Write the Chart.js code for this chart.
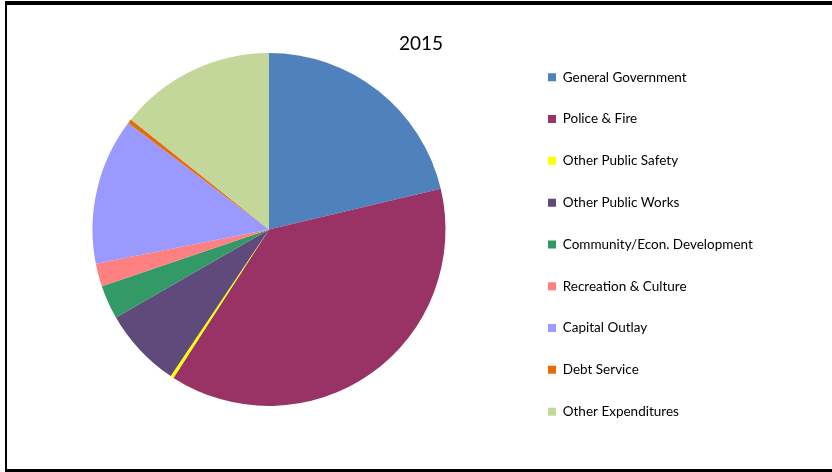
<!DOCTYPE html>
<html>
<head>
<meta charset="utf-8">
<script src="https://cdn.jsdelivr.net/npm/chart.js@4/dist/chart.umd.min.js"></script>
<style>
  html, body { margin: 0; padding: 0; background: #fff; }
  #wrap { position: relative; width: 832px; height: 472px; overflow: hidden; }
  #c { position: absolute; left: 0; top: 0; }
  #frame { position: absolute; left: 5px; top: 1px; width: 827px; height: 471px; box-sizing: border-box;
           border-top: 4px solid #000; border-left: 2px solid #000; border-bottom: 3px solid #000; pointer-events: none; }
</style>
</head>
<body>
<div id="wrap">
  <canvas id="c" width="832" height="472"></canvas>
  <div id="frame"></div>
</div>
<script>
const chartTitle = '2015';
const categories = [
  'General Government',
  'Police & Fire',
  'Other Public Safety',
  'Other Public Works',
  'Community/Econ. Development',
  'Recreation & Culture',
  'Capital Outlay',
  'Debt Service',
  'Other Expenditures'
];
const shares = [21.3, 37.8, 0.3, 7.3, 3.1, 2.1, 13.4, 0.4, 14.3];
const sliceColors = ['#4F81BD', '#993366', '#FFFF00', '#604A7B', '#339966', '#FF8080', '#9999FF', '#E46C0A', '#C4D79B'];

// Moves the title and legend blocks to their places after Chart.js layout.
const placeBlocks = {
  id: 'placeBlocks',
  afterLayout(chart, args, o) {
    const t = chart.titleBlock;
    if (t) {
      const tdx = o.titleCenterX - (t.left + t.right) / 2;
      t.left += tdx; t.right += tdx;
    }
    const lg = chart.legend;
    if (lg) {
      const pad = lg.options.labels.padding;
      const w = lg.right - lg.left;
      lg.left = o.legendX - pad;
      lg.right = lg.left + w;
      lg.top = o.legendY - pad;
      lg.bottom = chart.height;
      lg.height = lg.bottom - lg.top;
    }
  }
};

new Chart(document.getElementById('c'), {
  type: 'pie',
  data: {
    labels: categories,
    datasets: [{
      data: shares,
      backgroundColor: sliceColors,
      borderWidth: 0
    }]
  },
  plugins: [placeBlocks],
  options: {
    responsive: false,
    animation: false,
    events: [],
    layout: { padding: { left: 0, right: 294, top: 0, bottom: 66 } },
    plugins: {
      placeBlocks: { titleCenterX: 421, legendX: 548, legendY: 70.5 },
      title: {
        display: true,
        text: chartTitle,
        color: '#000',
        font: { family: 'Lato', size: 19, weight: 'normal', lineHeight: 1 },
        padding: { top: 34, bottom: 0 }
      },
      legend: {
        display: true,
        position: 'chartArea',
        align: 'start',
        labels: {
          boxWidth: 8,
          boxHeight: 8,
          padding: 28.3,
          color: '#000',
          font: { family: 'Lato', size: 13.5 }
        }
      },
      tooltip: { enabled: false }
    }
  }
});
</script>
</body>
</html>
